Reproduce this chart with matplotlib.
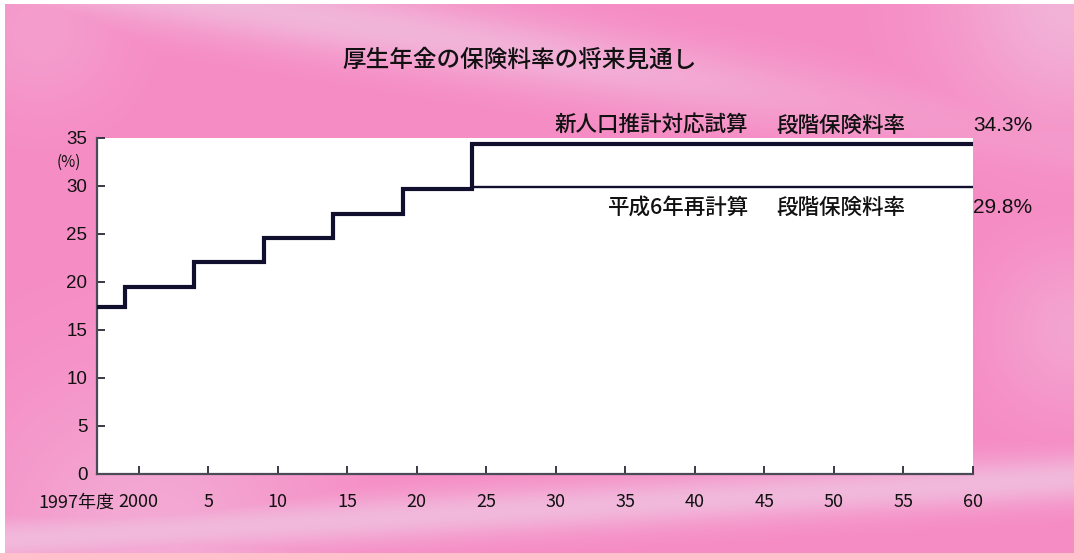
import numpy as np
import matplotlib
matplotlib.use("Agg")
import matplotlib.pyplot as plt
import matplotlib.transforms as mtransforms

# Stepped contribution-rate schedule (%), by fiscal year
years_new = [1997, 1999, 2004, 2009, 2014, 2019, 2024, 2060]
rates_new = [17.35, 19.5, 22.0, 24.5, 27.0, 29.6, 34.3, 34.3]
# 1994 (Heisei 6) recalculation: final level from 2024
years_h6 = [2024, 2060]
rates_h6 = [29.8, 29.8]

x_ticks = [1997, 2000, 2005, 2010, 2015, 2020, 2025, 2030,
           2035, 2040, 2045, 2050, 2055, 2060]
x_tick_labels = ["1997年度", "2000", "5", "10", "15", "20", "25", "30",
                 "35", "40", "45", "50", "55", "60"]
y_ticks = [0, 5, 10, 15, 20, 25, 30, 35]
y_tick_labels = ["0", "5", "10", "15", "20", "25", "30", "35"]

title = "厚生年金の保険料率の将来見通し"
label_new = ("新人口推計対応試算", "段階保険料率")
label_h6 = ("平成6年再計算", "段階保険料率")

CJK = ["Noto Sans CJK JP", "DejaVu Sans"]
NARROW = ["Liberation Sans Narrow", "Noto Sans CJK JP", "DejaVu Sans"]
SANS = ["Liberation Sans", "Noto Sans CJK JP", "DejaVu Sans"]
plt.rcParams["font.family"] = CJK

W, H = 1074, 553
fig = plt.figure(figsize=(W / 100, H / 100), dpi=100)


def px(x, y):
    """Pixel position (from top-left) to figure fraction."""
    return x / W, 1 - y / H


# ---- pink paper backdrop with soft light streaks ----
yy, xx = np.mgrid[0:H, 0:W].astype(float)
base = np.array([246, 140, 196]) / 255.0
light = np.array([240, 200, 228]) / 255.0


def band(x0, y0, x1, y1, width):
    dx, dy = x1 - x0, y1 - y0
    n = np.hypot(dx, dy)
    d = ((xx - x0) * dy - (yy - y0) * dx) / n
    return np.exp(-(d / width) ** 2)


def blob(cx, cy, r):
    return np.exp(-(((xx - cx) ** 2 + (yy - cy) ** 2) / r ** 2))


w = np.zeros((H, W))
w = np.maximum(w, 0.7 * band(150, -10, 820, 100, 35) * (1 - 0.7 * blob(1000, 100, 350)))
w = np.maximum(w, 0.75 * band(0, 540, 1074, 478, 24))
w = np.maximum(w, 0.65 * blob(1074, 0, 120))
w = np.maximum(w, 0.4 * blob(1074, 330, 80))
w = np.maximum(w, 0.5 * blob(150, 545, 170))
w = np.maximum(w, 0.3 * blob(40, 30, 80))
w = np.clip(w, 0, 1)
bg = base[None, None, :] * (1 - w[..., None]) + light[None, None, :] * w[..., None]
bg[:, :5, :] = 1.0
bg[:4, :, :] = 1.0

bg_ax = fig.add_axes([0, 0, 1, 1], zorder=0)
bg_ax.imshow(bg, aspect="auto", extent=[0, W, H, 0], interpolation="bilinear")
bg_ax.axis("off")

# ---- main chart ----
x0, y0 = px(97, 474)
x1, y1 = px(973, 137.5)
ax = fig.add_axes([x0, y0, x1 - x0, y1 - y0], zorder=1)
ax.set_facecolor("white")

line_color = "#10102e"
ax.step(years_new, rates_new, where="post", color=line_color, lw=3.0,
        solid_joinstyle="miter", zorder=3)
ax.plot(years_h6, rates_h6, color=line_color, lw=1.7, zorder=3)

ax.set_xlim(1997, 2060)
ax.set_ylim(0, 35)

for s in ("top", "right"):
    ax.spines[s].set_visible(False)
for s in ("left", "bottom"):
    ax.spines[s].set_color("#4a4a58")
    ax.spines[s].set_linewidth(1.6)

ax.set_xticks(x_ticks)
ax.set_xticklabels(x_tick_labels, fontfamily=NARROW, fontsize=13, color="#111111")
ax.set_yticks(y_ticks)
ax.set_yticklabels(y_tick_labels, fontfamily=SANS, fontsize=13.5, color="#111111")
ax.tick_params(axis="both", direction="in", length=6, width=1.3, color="#2a2a3a")
ax.tick_params(axis="x", pad=14)
ax.tick_params(axis="y", pad=7)

# "1997年度" sits left of its tick
first = ax.get_xticklabels()[0]
first.set_transform(first.get_transform() +
                    mtransforms.ScaledTranslation(-21 / 100, 0, fig.dpi_scale_trans))

# unit label under the top tick
fig.text(*px(69, 162), "(%)", fontfamily=NARROW, fontsize=11,
         ha="center", va="center", color="#111111")

# title
fig.text(*px(520, 60), title, fontfamily=CJK, fontsize=17, fontweight="medium",
         ha="center", va="center", color="#111111")

# series annotations
fig.text(*px(748, 126), label_new[0], fontsize=15.5, fontweight="medium",
         ha="right", va="center", color="#111111")
fig.text(*px(905, 126), label_new[1], fontsize=15.5, fontweight="medium",
         ha="right", va="center", color="#111111")
fig.text(*px(973, 125), f"{rates_new[-1]:.1f}%", fontfamily=SANS, fontsize=15,
         ha="left", va="center", color="#111111")

fig.text(*px(749, 208), label_h6[0], fontsize=15.5, fontweight="medium",
         ha="right", va="center", color="#111111")
fig.text(*px(905, 208), label_h6[1], fontsize=15.5, fontweight="medium",
         ha="right", va="center", color="#111111")
fig.text(*px(973, 208), f"{rates_h6[-1]:.1f}%", fontfamily=SANS, fontsize=15,
         ha="left", va="center", color="#111111")

fig.savefig("out.png", dpi=100)
